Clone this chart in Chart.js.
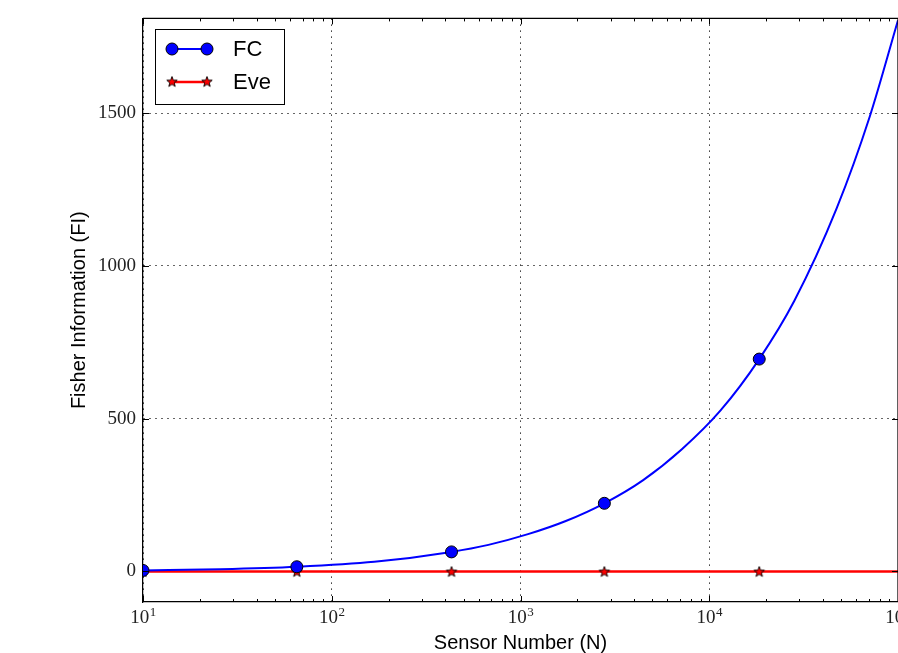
<!DOCTYPE html>
<html>
<head>
<meta charset="utf-8">
<script src="https://cdn.jsdelivr.net/npm/chart.js@4"></script>
<style>
html, body { margin: 0; padding: 0; overflow: hidden; background: #fff; }
</style>
</head>
<body>
<canvas id="grafico" width="960" height="653"></canvas>
<script>
// valori
var sensorN = [10, 25.7, 65.3, 168, 431, 676, 1096, 1738, 2782, 4467, 7161, 11480, 18400, 28200, 47300, 70800, 100000];
var fcFI = [3.3, 7.3, 15.4, 31.6, 64, 87, 122, 165, 223, 299, 400, 527, 695, 885, 1188, 1488, 1804];
var markerN = [10, 65.3, 431, 2782, 18400];
var eveN = [10, 65.3, 431, 2782, 18400, 100000];
var eveFI = [0, 0, 0, 0, 0, 0];
var xTicks = [10, 100, 1000, 10000, 100000];
var xExp = ['1', '2', '3', '4', '5'];
var yTicks = [0, 500, 1000, 1500];

var serif = '"Liberation Serif", "DejaVu Serif", serif';
var sans = '"Liberation Sans", Arial, sans-serif';

// stella piena per i marker di Eve
function makeStar(r, fill) {
    var c = document.createElement('canvas');
    var s = Math.ceil(r * 2 + 3);
    c.width = s; c.height = s;
    var g = c.getContext('2d');
    g.translate(s / 2, s / 2 + 0.5);
    g.beginPath();
    for (var i = 0; i < 10; i++) {
        var rr = i % 2 === 0 ? r : r * 0.42;
        var a = -Math.PI / 2 + i * Math.PI / 5;
        g.lineTo(rr * Math.cos(a), rr * Math.sin(a));
    }
    g.closePath();
    g.fillStyle = fill;
    g.fill();
    g.lineWidth = 0.9;
    g.strokeStyle = '#000';
    g.stroke();
    return c;
}
var star = makeStar(5.5, '#ff0000');

var fcData = [];
for (var i = 0; i < sensorN.length; i++) fcData.push({ x: sensorN[i], y: fcFI[i] });
var eveData = [];
for (var j = 0; j < eveN.length; j++) eveData.push({ x: eveN[j], y: eveFI[j] });

var extra = {
    id: 'extra',
    afterDraw: function (chart) {
        var ctx = chart.ctx;
        var xs = chart.scales.x, ys = chart.scales.y;
        var a = chart.chartArea;
        ctx.save();
        // cornice sopra e a destra
        ctx.strokeStyle = '#000';
        ctx.lineWidth = 1.25;
        ctx.beginPath();
        ctx.moveTo(a.left, a.top); ctx.lineTo(a.right, a.top);
        ctx.lineTo(a.right, a.bottom);
        ctx.stroke();
        // tacche interne
        ctx.lineWidth = 1;
        ctx.beginPath();
        for (var d = 1; d < 5; d++) {
            for (var m = 1; m < 10; m++) {
                var v = Math.pow(10, d) * m;
                var px = Math.round(xs.getPixelForValue(v)) + 0.5;
                var len = m === 1 ? 6 : 3;
                ctx.moveTo(px, a.bottom); ctx.lineTo(px, a.bottom - len);
                ctx.moveTo(px, a.top); ctx.lineTo(px, a.top + len);
            }
        }
        yTicks.forEach(function (v) {
            var py = Math.round(ys.getPixelForValue(v)) + 0.5;
            ctx.moveTo(a.left, py); ctx.lineTo(a.left + 6, py);
            ctx.moveTo(a.right, py); ctx.lineTo(a.right - 6, py);
        });
        ctx.stroke();
        // etichette asse x con esponente
        ctx.fillStyle = '#222';
        ctx.textBaseline = 'alphabetic';
        ctx.textAlign = 'left';
        xTicks.forEach(function (v, k) {
            var px = xs.getPixelForValue(v);
            ctx.font = '19px ' + serif;
            var w1 = ctx.measureText('10').width;
            ctx.font = '13px ' + serif;
            var w2 = ctx.measureText(xExp[k]).width;
            var x0 = px - (w1 + w2) / 2;
            ctx.font = '19px ' + serif;
            ctx.fillText('10', x0, 623);
            ctx.font = '13px ' + serif;
            ctx.fillText(xExp[k], x0 + w1 + 0.5, 616);
        });
        // titoli assi
        ctx.fillStyle = '#000';
        ctx.font = '20px ' + sans;
        ctx.textAlign = 'center';
        ctx.fillText('Sensor Number (N)', (a.left + a.right) / 2, 649);
        ctx.save();
        ctx.translate(85, (a.top + a.bottom) / 2);
        ctx.rotate(-Math.PI / 2);
        ctx.fillText('Fisher Information (FI)', 0, 0);
        ctx.restore();
        // legenda
        ctx.fillStyle = '#fff';
        ctx.fillRect(155.5, 29.5, 129, 75);
        ctx.strokeStyle = '#000';
        ctx.lineWidth = 1;
        ctx.strokeRect(155.5, 29.5, 129, 75);
        ctx.lineWidth = 2;
        ctx.strokeStyle = '#0000ff';
        ctx.beginPath(); ctx.moveTo(172, 49); ctx.lineTo(207, 49); ctx.stroke();
        [172, 207].forEach(function (cx) {
            ctx.beginPath(); ctx.arc(cx, 49, 6, 0, Math.PI * 2);
            ctx.fillStyle = '#0000ff'; ctx.fill();
            ctx.lineWidth = 1; ctx.strokeStyle = '#000'; ctx.stroke();
        });
        ctx.lineWidth = 2.5;
        ctx.strokeStyle = '#ff0000';
        ctx.beginPath(); ctx.moveTo(172, 82); ctx.lineTo(207, 82); ctx.stroke();
        [172, 207].forEach(function (cx) {
            ctx.drawImage(star, cx - star.width / 2, 82 - star.height / 2 - 0.5);
        });
        ctx.fillStyle = '#000';
        ctx.font = '22px ' + sans;
        ctx.textAlign = 'left';
        ctx.textBaseline = 'middle';
        ctx.fillText('FC', 233, 50);
        ctx.fillText('Eve', 233, 83);
        ctx.restore();
    }
};

var ctx = document.getElementById('grafico');
var chart = new Chart(ctx, {
    type: 'line',
    data: {
        datasets: [{
            label: 'FC',
            data: fcData,
            borderColor: '#0000ff',
            backgroundColor: '#0000ff',
            borderWidth: 2,
            cubicInterpolationMode: 'monotone',
            pointStyle: 'circle',
            pointRadius: function (c) { return markerN.indexOf(sensorN[c.dataIndex]) >= 0 ? 6 : 0; },
            pointBorderColor: '#000',
            pointBorderWidth: 1,
            clip: 0
        }, {
            label: 'Eve',
            data: eveData,
            borderColor: '#ff0000',
            backgroundColor: '#ff0000',
            borderWidth: 2.5,
            pointStyle: function (c) { return c.dataIndex < markerN.length ? star : false; },
            pointRadius: 6,
            clip: 0
        }]
    },
    options: {
        responsive: false,
        animation: false,
        events: [],
        layout: { padding: { top: 17, right: 62, left: 0, bottom: 0 } },
        plugins: { legend: { display: false }, tooltip: { enabled: false } },
        scales: {
            x: {
                type: 'logarithmic',
                min: 10,
                max: 100000,
                z: 1,
                afterBuildTicks: function (s) { s.ticks = xTicks.map(function (v) { return { value: v }; }); },
                afterFit: function (s) { s.height = 51; },
                ticks: { display: false },
                grid: { color: 'rgba(0,0,0,0.8)', lineWidth: 1, drawTicks: false, tickLength: 0 },
                border: { display: true, color: '#000', width: 1.25, dash: [1.5, 4.5] }
            },
            y: {
                min: -100,
                max: 1810,
                z: 1,
                afterBuildTicks: function (s) { s.ticks = yTicks.map(function (v) { return { value: v }; }); },
                afterFit: function (s) { s.width = 143; },
                ticks: {
                    color: '#222', padding: 7, font: { family: serif, size: 19 },
                    callback: function (v) { return String(v); }
                },
                grid: { color: 'rgba(0,0,0,0.8)', lineWidth: 1, drawTicks: false, tickLength: 0 },
                border: { display: true, color: '#000', width: 1.25, dash: [1.5, 4.5] }
            }
        }
    },
    plugins: [extra]
});
</script>
</body>
</html>
